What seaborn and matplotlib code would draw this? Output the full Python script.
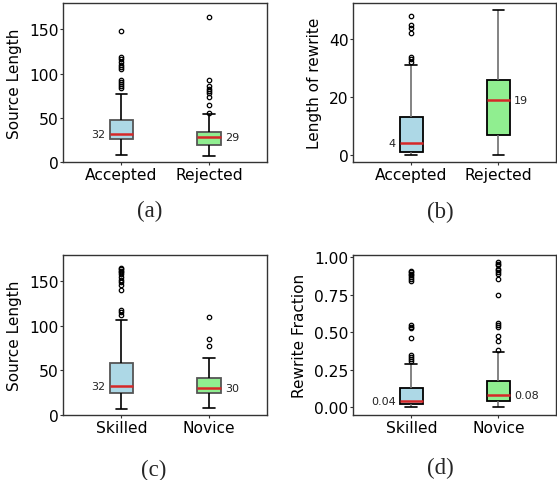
import numpy as np
import pandas as pd
import matplotlib
matplotlib.use("Agg")
import matplotlib.pyplot as plt
import seaborn as sns

# (a) source length of accepted / rejected rewrites
src_accepted = [8, 10, 12, 13, 15, 16, 18, 19, 20, 22, 23, 24, 25,
                26, 26, 27, 27, 28, 28, 29, 29, 30, 30, 31, 31, 32,
                32, 33, 34, 35, 36, 37, 38, 40, 41, 43, 44, 46, 47,
                48, 77,
                84, 86, 88, 91, 93, 105, 107, 110, 113, 116, 119, 148]
src_rejected = [7, 9, 11, 12, 14, 15, 16, 17, 18, 19,
                20, 21, 22, 23, 24, 25, 26, 27, 28, 28,
                29, 29, 30, 30, 31, 31, 32, 32, 33, 33,
                34, 54,
                56, 65, 74, 78, 80, 83, 86, 93, 164]

# (b) length of rewrite
rw_accepted = [0, 0, 0, 0, 0, 1, 1, 1,
               1, 1, 2, 2, 2, 3, 3, 3,
               4, 5, 6, 7, 8, 9, 10, 12,
               13, 31,
               32, 33, 34, 42, 44, 45, 48]
rw_rejected = [0, 2, 4, 6, 7, 10, 13, 16, 19, 21, 23, 25, 26, 30, 36, 43, 50]

# (c) source length by user group
src_skilled = [6, 8, 10, 11, 13, 14, 15, 16, 17, 18, 20, 21, 22, 23,
               24, 25, 25, 26, 26, 27, 27, 28, 29, 29, 30, 30, 31, 31,
               32, 33, 35, 37, 40, 41, 44, 45, 48, 50, 51, 54, 55, 57,
               58, 106,
               112, 115, 118, 140, 146, 149, 152, 155, 158, 160, 162, 164, 165]
src_novice = [8, 12, 17, 21, 24, 26, 27, 29, 30, 33, 36, 39, 41, 64, 77, 85, 110]

# (d) rewrite fraction by user group
frac_skilled = [0.0, 0.0, 0.0, 0.0, 0.0, 0.003, 0.005, 0.006, 0.008, 0.01,
                0.011, 0.013, 0.015, 0.016, 0.018, 0.019,
                0.02, 0.021, 0.023, 0.024, 0.026, 0.027, 0.029, 0.03, 0.032,
                0.034, 0.035, 0.037, 0.039, 0.04, 0.041, 0.043,
                0.044, 0.048, 0.053, 0.058, 0.064, 0.069, 0.075, 0.081, 0.087,
                0.093, 0.099, 0.105, 0.111, 0.118, 0.124, 0.129,
                0.132, 0.287,
                0.309, 0.325, 0.338, 0.348, 0.459, 0.530, 0.538, 0.547,
                0.841, 0.856, 0.868, 0.878, 0.889, 0.898, 0.907]
frac_novice = [0.0, 0.0, 0.002, 0.005, 0.008, 0.01, 0.013, 0.016, 0.019, 0.022,
               0.025, 0.028, 0.031, 0.034, 0.037, 0.04,
               0.042, 0.044, 0.046, 0.049, 0.051, 0.054, 0.056, 0.059, 0.061,
               0.064, 0.066, 0.069, 0.071, 0.074, 0.076, 0.078,
               0.08, 0.085, 0.091, 0.097, 0.103, 0.109, 0.115, 0.12, 0.126,
               0.132, 0.138, 0.144, 0.15, 0.157, 0.163, 0.169,
               0.175, 0.37,
               0.384, 0.444, 0.477, 0.538, 0.550, 0.560, 0.748, 0.854,
               0.889, 0.901, 0.911, 0.922, 0.944, 0.956, 0.967]

status_labels = ["Accepted", "Rejected"]
group_labels = ["Skilled", "Novice"]

W, H = 557, 481
BOX_COLORS = ["#add8e6", "#90ee90"]


def px_axes(fig, left, top, right, bottom):
    return fig.add_axes([left / W, 1 - bottom / H, (right - left) / W, (bottom - top) / H])


def draw_panel(ax, values, cats, ylabel, edge, whisker, fmt, yticks, ylim=None):
    df = pd.DataFrame({
        "cat": [cats[0]] * len(values[0]) + [cats[1]] * len(values[1]),
        "val": list(values[0]) + list(values[1]),
    })
    sns.boxplot(data=df, x="cat", y="val", hue="cat", order=cats, hue_order=cats,
                palette=BOX_COLORS, saturation=1, width=0.27, legend=False,
                linewidth=1.2, ax=ax,
                boxprops=dict(edgecolor=edge, linewidth=1.3),
                medianprops=dict(color="#d62728", linewidth=1.8),
                whiskerprops=dict(color=whisker, linewidth=1.2),
                capprops=dict(color="black", linewidth=1.2),
                flierprops=dict(marker="o", markersize=3.2, markerfacecolor="none",
                                markeredgecolor="black", markeredgewidth=0.9))
    ax.set_xlim(-0.665, 1.66)
    if ylim is not None:
        ax.set_ylim(*ylim)
    ax.set_yticks(yticks)
    if fmt == "f2":
        ax.set_yticklabels([f"{t:.2f}" for t in yticks])
    ax.set_xlabel("")
    ax.set_ylabel(ylabel, fontsize=11, color="black", labelpad=5)
    ax.tick_params(axis="both", labelsize=11.2, length=2, width=0.8, pad=1.5,
                   color="#333333", labelcolor="black")
    for s in ax.spines.values():
        s.set_color("#333333")
        s.set_linewidth(1.0)

    # median labels: left of first box, right of second box
    for i, v in enumerate(values):
        med = np.median(v)
        txt = f"{med:.2f}" if fmt == "f2" else f"{med:.0f}"
        if i == 0:
            ax.text(i - 0.135 - 0.045, med, txt, ha="right", va="center",
                    fontsize=8, color="#222222")
        else:
            ax.text(i + 0.135 + 0.045, med, txt, ha="left", va="center",
                    fontsize=8, color="#222222")


sns.set_style("ticks")
plt.rcParams["font.family"] = ["DejaVu Sans"]

fig = plt.figure(figsize=(W / 100, H / 100), dpi=100)

ax_a = px_axes(fig, 63.3, 3.5, 266.7, 163.3)
ax_b = px_axes(fig, 353.3, 4, 556, 163.3)
ax_c = px_axes(fig, 63.3, 255.7, 266.7, 415.7)
ax_d = px_axes(fig, 353.3, 255.7, 556, 415.7)

draw_panel(ax_a, [src_accepted, src_rejected], status_labels, "Source Length",
           "#555555", "black", "int", [0, 50, 100, 150], ylim=(0, 180))
draw_panel(ax_b, [rw_accepted, rw_rejected], status_labels, "Length of rewrite",
           "black", "#6e6e6e", "int", [0, 20, 40])
draw_panel(ax_c, [src_skilled, src_novice], group_labels, "Source Length",
           "#555555", "black", "int", [0, 50, 100, 150], ylim=(0, 180))
draw_panel(ax_d, [frac_skilled, frac_novice], group_labels, "Rewrite Fraction",
           "black", "#6e6e6e", "f2", [0, 0.25, 0.5, 0.75, 1.0])

captions = [("(a)", 150, 211), ("(b)", 440, 212), ("(c)", 154, 470), ("(d)", 440, 468)]
for lab, cx, cy in captions:
    fig.text(cx / W, 1 - cy / H, lab, ha="center", va="center",
             fontsize=16.5, family="Liberation Serif")

fig.savefig("out.png", dpi=100)
